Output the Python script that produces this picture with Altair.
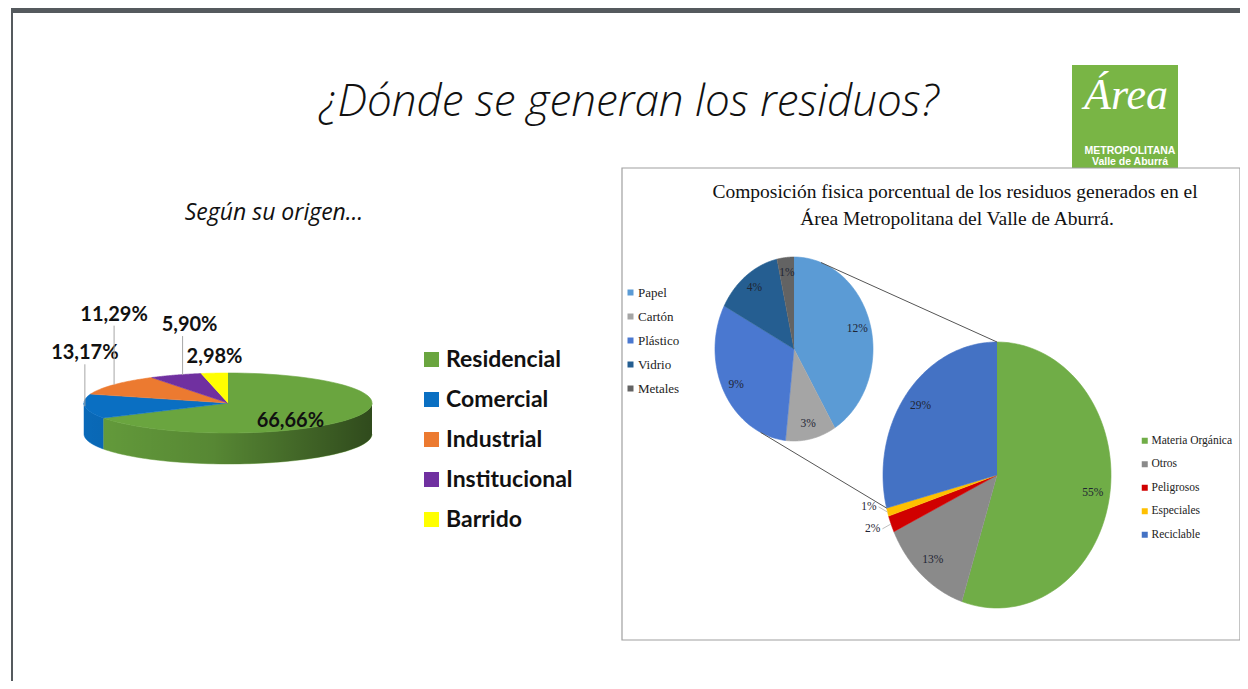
import math
import altair as alt
import pandas as pd

# ---------------- data ----------------
origen_cat = ["Residencial", "Comercial", "Industrial", "Institucional", "Barrido"]
origen_val = [66.66, 13.17, 11.29, 5.90, 2.98]
origen_col = ["#6aa53f", "#0a6fc2", "#ec7a30", "#7030a0", "#ffff00"]

comp_cat = ["Materia Orgánica", "Otros", "Peligrosos", "Especiales", "Reciclable"]
comp_val = [55, 13, 2, 1, 29]
comp_col = ["#70ad47", "#8a8a8a", "#d00000", "#ffc000", "#4472c4"]

recic_cat = ["Papel", "Cartón", "Plástico", "Vidrio", "Metales"]
recic_val = [12, 3, 9, 4, 1]
recic_col = ["#5b9bd5", "#a5a5a5", "#4a78d0", "#255e91", "#636363"]

slide_title = "¿Dónde se generan los residuos?"
left_subtitle = "Según su  origen…"
right_title = ["Composición fisica porcentual de los residuos generados en el",
               "Área Metropolitana del Valle de Aburrá."]

df_origen = pd.DataFrame({"i": range(len(origen_cat)), "cat": origen_cat, "val": origen_val})
df_comp = pd.DataFrame({"i": range(len(comp_cat)), "cat": comp_cat, "val": comp_val})
df_recic = pd.DataFrame({"i": range(len(recic_cat)), "cat": recic_cat, "val": recic_val})

# ---------------- layout ----------------
XS = alt.Scale(domain=[8, 1240], nice=False, zero=False)
YS = alt.Scale(domain=[8, 681], nice=False, zero=False, reverse=True)
N = 72

# 3D pie (left)
L = dict(cx=228, cy=403, rx=144, ry=30, depth=31)
# main pie (right) and secondary pie
M = dict(cx=997, cy=475, rx=114, ry=133)
S = dict(cx=794, cy=349, rx=79, ry=92)
LABEL_LIFT = {"Comercial": 53, "Industrial": 70, "Institucional": 50, "Barrido": 16}
LABEL_SHIFT = {"Institucional": 14}


def X(f):
    return alt.X(f, type="quantitative", scale=XS, axis=None)


def Y(f):
    return alt.Y(f, type="quantitative", scale=YS, axis=None)


def XD(v):
    return alt.XDatum(v, type="quantitative", scale=XS, axis=None)


def YD(v):
    return alt.YDatum(v, type="quantitative", scale=YS, axis=None)


def with_angles(df):
    return alt.Chart(df).transform_joinaggregate(total="sum(val)").transform_window(
        cum="sum(val)", sort=[alt.SortField("i", order="ascending")], frame=[None, 0]
    ).transform_calculate(
        a0="2*PI*(datum.cum - datum.val)/datum.total",
        a1="2*PI*datum.cum/datum.total",
    ).transform_calculate(am="(datum.a0 + datum.a1)/2")


def face(df, g, fill, stroke):
    c = with_angles(df).transform_calculate(k=f"sequence(0, {N + 2})").transform_flatten(["k"])
    c = c.transform_calculate(
        ang=f"datum.a0 + (datum.a1 - datum.a0)*(datum.k - 1)/{N}"
    ).transform_calculate(
        px=f"datum.k == 0 ? {g['cx']} : {g['cx']} + {g['rx']}*sin(datum.ang)",
        py=f"datum.k == 0 ? {g['cy']} : {g['cy']} - {g['ry']}*cos(datum.ang)",
    )
    return c.mark_line(filled=True, strokeWidth=0.6).encode(
        x=X("px"), y=Y("py"), fill=fill, stroke=stroke, order=alt.Order("k:Q"), detail="cat:N"
    )


def side_data(df, g):
    c = with_angles(df).transform_calculate(
        s0="clamp(datum.a0, PI/2, 3*PI/2)", s1="clamp(datum.a1, PI/2, 3*PI/2)"
    ).transform_filter("datum.s1 > datum.s0")
    c = c.transform_calculate(k=f"sequence(0, {2 * N + 2})").transform_flatten(["k"])
    c = c.transform_calculate(
        ang=f"datum.k <= {N} ? datum.s0 + (datum.s1 - datum.s0)*datum.k/{N} : "
            f"datum.s1 - (datum.s1 - datum.s0)*(datum.k - {N + 1})/{N}"
    ).transform_calculate(
        px=f"{g['cx']} + {g['rx']}*sin(datum.ang)",
        py=f"{g['cy']} - {g['ry']}*cos(datum.ang) + (datum.k <= {N} ? 0 : {g['depth']})",
    )
    return c


def text_at(t, x, y, **mk):
    return alt.Chart(pd.DataFrame({"t": [t]})).mark_text(**mk).encode(x=XD(x), y=YD(y), text="t:N")


def rect_at(x0, y0, x1, y1, **mk):
    return alt.Chart(pd.DataFrame({"a": [0]})).mark_rect(**mk).encode(
        x=XD(x0), x2=alt.X2Datum(x1), y=YD(y0), y2=alt.Y2Datum(y1)
    )


def seg(x0, y0, x1, y1, **mk):
    return alt.Chart(pd.DataFrame({"a": [0]})).mark_rule(**mk).encode(
        x=XD(x0), x2=alt.X2Datum(x1), y=YD(y0), y2=alt.Y2Datum(y1)
    )


# ---------------- scales / legends ----------------
sc_or = alt.Scale(domain=origen_cat, range=origen_col)
sc_co = alt.Scale(domain=comp_cat, range=comp_col)
sc_re = alt.Scale(domain=recic_cat, range=recic_col)

leg_or = alt.Legend(orient="none", legendX=412, legendY=340, title=None, symbolType="square",
                    symbolSize=225, symbolStrokeWidth=0, labelFont="Lato", labelFontSize=23,
                    labelFontWeight="bold", labelColor="#111111", rowPadding=16, labelOffset=3,
                    padding=0)
leg_co = alt.Legend(orient="none", legendX=1131, legendY=427, title=None, symbolType="square",
                    symbolSize=36, symbolStrokeWidth=0, labelFont="Liberation Serif",
                    labelFontSize=11.5, labelColor="#222222", rowPadding=10.5, labelOffset=1,
                    padding=0, labelLimit=200)
leg_re = alt.Legend(orient="none", legendX=616, legendY=278, title=None, symbolType="square",
                    symbolSize=36, symbolStrokeWidth=0, labelFont="Liberation Serif", labelFontSize=13,
                    labelColor="#222222", rowPadding=10, labelOffset=1, padding=0)

# ---------------- slide frame ----------------
frame = [
    rect_at(12, 8, 1240, 13, color="#555a5e"),
    rect_at(11, 8, 13, 681, color="#555a5e"),
    text_at(slide_title, 629, 103, font="Open Sans", fontStyle="italic", fontWeight=300,
            fontSize=44, color="#111111", baseline="middle"),
    rect_at(1072, 65, 1178, 168, color="#79b545"),
    text_at("Área", 1126, 96, font="Liberation Serif", fontStyle="italic", fontSize=44,
            color="white", baseline="middle"),
    text_at("METROPOLITANA", 1130, 151, font="Liberation Sans", fontWeight="bold", fontSize=10.5,
            color="white", baseline="middle"),
    text_at("Valle de Aburrá", 1130, 162, font="Liberation Sans", fontWeight="bold", fontSize=10.5,
            color="white", baseline="middle"),
    rect_at(622, 168, 1240, 640, fill="white", stroke="#a0a0a0", strokeWidth=1.2),
    text_at(left_subtitle, 274, 213, font="Open Sans", fontStyle="italic", fontSize=23,
            color="#111111", baseline="middle"),
    text_at(right_title[0], 955, 192, font="Liberation Serif", fontSize=19.5, color="#111111",
            baseline="middle"),
    text_at(right_title[1], 957, 219, font="Liberation Serif", fontSize=19.5, color="#111111",
            baseline="middle"),
]

# ---------------- left 3D pie ----------------
sides = side_data(df_origen, L).mark_line(filled=True, strokeWidth=0.5).encode(
    x=X("px"), y=Y("py"), fill=alt.Fill("cat:N", scale=sc_or, legend=leg_or),
    stroke=alt.Stroke("cat:N", scale=sc_or, legend=None),
    order=alt.Order("k:Q"), detail="cat:N")

band_df = pd.DataFrame({"i": [0], "cat": ["band"], "val": [1]})
shade = side_data(band_df, L).mark_line(
    filled=True, strokeWidth=0,
    fill=alt.Gradient(gradient="linear", x1=0, x2=1, y1=0, y2=0, stops=[
        alt.GradientStop(color="rgba(0,0,0,0.05)", offset=0),
        alt.GradientStop(color="rgba(0,0,0,0.18)", offset=0.45),
        alt.GradientStop(color="rgba(0,0,0,0.55)", offset=1)])
).encode(x=X("px"), y=Y("py"), order=alt.Order("k:Q"))

top = face(df_origen, L, alt.Fill("cat:N", scale=sc_or, legend=None),
           alt.Stroke("cat:N", scale=sc_or, legend=None))

lift_expr = " : ".join(f"datum.cat == '{k}' ? {v}" for k, v in LABEL_LIFT.items()) + " : 0"
shift_expr = " : ".join(f"datum.cat == '{k}' ? {v}" for k, v in LABEL_SHIFT.items()) + " : 0"
lab_base = with_angles(df_origen).transform_calculate(
    t="replace(format(datum.val, '.2f'), '.', ',') + '%'",
    ex=f"{L['cx']} + {L['rx']}*sin(datum.am)",
    ey=f"{L['cy']} - {L['ry']}*cos(datum.am)",
    lift=lift_expr,
    shift=shift_expr,
).transform_calculate(ly="datum.ey - datum.lift", ltop="datum.ey - datum.lift + 11",
                      lx="datum.ex + datum.shift", rx="datum.ex + datum.shift/2")

lab_in = with_angles(df_origen).transform_filter("datum.val >= 20").transform_calculate(
    t="replace(format(datum.val, '.2f'), '.', ',') + '%'",
    lx=f"{L['cx']} + {L['rx']}*0.5*sin(datum.am)",
    ly=f"{L['cy']} - {L['ry']}*0.5*cos(datum.am) + 11",
).mark_text(font="Lato", fontWeight="bold", fontSize=20, color="#111111").encode(
    x=X("lx"), y=Y("ly"), text="t:N")

lab_out = lab_base.transform_filter("datum.val < 20").mark_text(
    font="Lato", fontWeight="bold", fontSize=20, color="#111111").encode(
    x=X("lx"), y=Y("ly"), text="t:N")

lead_out = lab_base.transform_filter("datum.val < 20 && datum.lift > 20").mark_rule(
    color="#a6a6a6", strokeWidth=1).encode(x=X("rx"), y=Y("ey"), y2="ltop:Q")

# ---------------- right pie of pie ----------------
main_pie = face(df_comp, M, alt.Fill("cat:N", scale=sc_co, legend=leg_co),
                alt.Stroke("cat:N", scale=sc_co, legend=None))
sec_pie = face(df_recic, S, alt.Fill("cat:N", scale=sc_re, legend=leg_re),
               alt.Stroke("cat:N", scale=sc_re, legend=None))

# connector lines between the "Reciclable" slice and the secondary pie
share_before = sum(comp_val[:comp_cat.index("Reciclable")]) / sum(comp_val)
a_start = 2 * math.pi * share_before
m_top = (M["cx"], M["cy"] - M["ry"])
m_low = (M["cx"] + M["rx"] * math.sin(a_start), M["cy"] - M["ry"] * math.cos(a_start))
t_up, t_lo = math.radians(20), math.radians(205)
s_up = (S["cx"] + S["rx"] * math.sin(t_up), S["cy"] - S["ry"] * math.cos(t_up))
s_lo = (S["cx"] + S["rx"] * math.sin(t_lo), S["cy"] - S["ry"] * math.cos(t_lo))
connectors = [
    seg(s_up[0], s_up[1], m_top[0], m_top[1], color="#555555", strokeWidth=1),
    seg(s_lo[0], s_lo[1], m_low[0], m_low[1], color="#555555", strokeWidth=1),
]

lbl_font = dict(font="Liberation Serif", fontSize=11.5, color="#1f2533")
main_in = with_angles(df_comp).transform_filter("datum.val >= 3").transform_calculate(
    t="format(datum.val, 'd') + '%'",
    lx=f"{M['cx']} + {M['rx']}*0.85*sin(datum.am)",
    ly=f"{M['cy']} - {M['ry']}*0.85*cos(datum.am)",
).mark_text(**lbl_font).encode(x=X("lx"), y=Y("ly"), text="t:N")

main_out_base = with_angles(df_comp).transform_filter("datum.val < 3").transform_calculate(
    t="format(datum.val, 'd') + '%'",
    ex=f"{M['cx']} + {M['rx']}*sin(datum.am)",
    ey=f"{M['cy']} - {M['ry']}*cos(datum.am)",
    lx=f"{M['cx']} + {M['rx']}*1.1*sin(datum.am)",
    ly=f"{M['cy']} - {M['ry']}*1.1*cos(datum.am) + (datum.cat == 'Especiales' ? -9 : 0)",
).transform_calculate(lx2="datum.lx + 2")
main_out = main_out_base.mark_text(align="right", **lbl_font).encode(
    x=X("lx"), y=Y("ly"), text="t:N")
main_lead = main_out_base.mark_rule(color="#bfbfbf", strokeWidth=1).encode(
    x=X("lx2"), y=Y("ly"), x2="ex:Q", y2="ey:Q")

sec_lab = with_angles(df_recic).transform_calculate(
    t="format(datum.val, 'd') + '%'",
    lx=f"{S['cx']} + {S['rx']}*0.83*sin(datum.am)",
    ly=f"{S['cy']} - {S['ry']}*0.83*cos(datum.am)",
).mark_text(**lbl_font).encode(x=X("lx"), y=Y("ly"), text="t:N")

layers = frame + [sides, shade, top, lab_in, lab_out, lead_out,
                  main_pie, sec_pie] + connectors + [main_in, main_out, main_lead, sec_lab]

chart = alt.layer(*layers).resolve_scale(fill="independent", stroke="independent").properties(
    width=1232, height=673, padding=0, autosize=alt.AutoSizeParams(type="none"),
    background="white",
).configure_view(stroke=None)

chart.save("out.html", embed_options={"renderer": "svg", "actions": False})
